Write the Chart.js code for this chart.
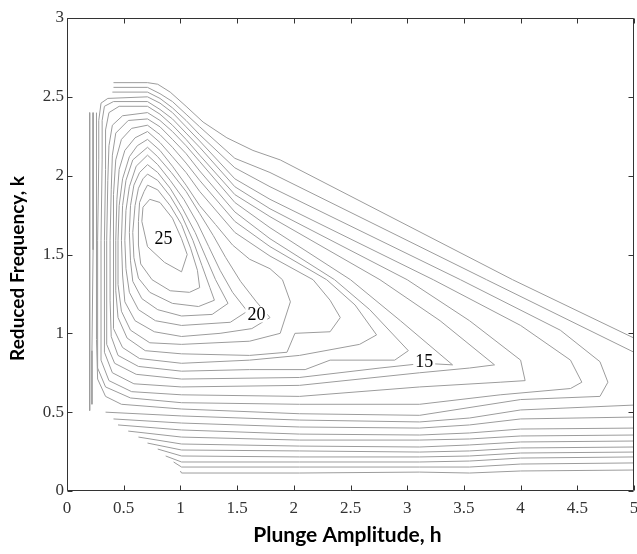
<!DOCTYPE html>
<html>
<head>
<meta charset="utf-8">
<script src="https://cdn.jsdelivr.net/npm/chart.js@4.4.1/dist/chart.umd.min.js"></script>
<style>
html,body{margin:0;padding:0;background:#fff;overflow:hidden}
#wrap{position:relative;width:650px;height:554px}
</style>
</head>
<body>
<div id="wrap"><canvas id="chart" width="650" height="554"></canvas></div>
<script>
// axis ticks
const xTicks = [0, 0.5, 1, 1.5, 2, 2.5, 3, 3.5, 4, 4.5, 5]
const yTicks = [0, 0.5, 1, 1.5, 2, 2.5, 3]

// contour lines, one array per level, each holding one or more [h, k] polylines
const lvl01 = [[[1.00,.127],[1.01,.114],[2.05,.114],[3.11,.120],[3.55,.114],[4.00,.127],[5.00,.133]]]
const lvl02 = [[[.94,.184],[1.01,.152],[2.05,.152],[3.11,.152],[3.55,.152],[4.00,.171],[5.00,.178]]]
const lvl03 = [[[.87,.222],[1.01,.184],[2.05,.184],[3.11,.184],[3.55,.190],[4.00,.209],[5.00,.216]]]
const lvl04 = [[[.80,.266],[1.01,.222],[2.05,.216],[3.11,.216],[3.55,.222],[4.00,.241],[5.00,.247]]]
const lvl05 = [[[.71,.304],[1.01,.260],[2.05,.254],[3.11,.247],[3.55,.254],[4.00,.273],[5.00,.279]]]
const lvl06 = [[[.63,.342],[1.01,.298],[2.05,.285],[3.11,.279],[3.55,.292],[4.00,.311],[5.00,.317]]]
const lvl07 = [[[.54,.380],[1.01,.342],[2.05,.323],[3.11,.323],[3.55,.330],[4.00,.349],[5.00,.355]]]
const lvl08 = [[[.45,.419],[1.01,.387],[2.05,.361],[3.11,.355],[3.55,.368],[4.00,.393],[5.00,.399]]]
const lvl09 = [
  [[.41,2.59],[.71,2.59],[.80,2.58],[.91,2.53],[1.05,2.44],[1.20,2.34],[1.41,2.24],[1.64,2.16],[1.88,2.10],[3.93,1.34],[5.00,.97]],
  [[.20,2.40],[.20,1.50],[.20,.51]],
  [[.41,.457],[1.01,.431],[2.05,.406],[3.11,.399],[3.55,.419],[4.00,.457],[5.00,.469]]
]
const lvl10 = [
  [[.41,2.56],[.71,2.56],[.82,2.52],[.93,2.47],[1.05,2.39],[1.17,2.31],[1.48,2.11],[1.79,2.02],[3.70,1.34],[5.00,.88]],
  [[.23,2.40],[.23,1.53],[.22,.89],[.22,.55]],
  [[.34,.50],[1.01,.476],[2.05,.450],[3.11,.438],[3.55,.463],[4.00,.514],[5.00,.545]]
]
const lvl11 = [[[.40,2.53],[.71,2.53],[.82,2.49],[.93,2.43],[1.05,2.35],[1.17,2.26],[1.48,2.05],[1.79,1.93],[3.47,1.34],[4.35,1.02],[4.70,.82],[4.77,.69],[4.70,.60],[4.00,.58],[3.11,.48],[2.05,.49],[1.01,.52],[.48,.55],[.34,.60],[.27,.71],[.26,.96],[.26,1.59],[.26,2.10],[.26,2.40]]]
const lvl12 = [[[.71,2.50],[.82,2.46],[.93,2.40],[1.05,2.31],[1.17,2.22],[1.48,1.98],[1.79,1.85],[3.23,1.34],[4.00,1.05],[4.44,.83],[4.54,.69],[4.44,.65],[3.82,.61],[3.11,.55],[2.05,.55],[1.01,.56],[.56,.59],[.34,.66],[.27,.78],[.27,1.21],[.27,1.59],[.28,2.10],[.28,2.35],[.30,2.46],[.36,2.49],[.71,2.50]]]
const lvl13 = [[[.71,2.47],[.82,2.42],[.93,2.36],[1.05,2.27],[1.17,2.18],[1.48,1.93],[1.79,1.79],[3.00,1.34],[3.55,1.08],[4.00,.83],[4.04,.70],[3.82,.69],[3.11,.66],[2.05,.60],[1.01,.61],[.57,.63],[.37,.70],[.30,.83],[.30,1.21],[.30,1.59],[.31,2.10],[.31,2.35],[.33,2.44],[.41,2.47],[.71,2.47]]]
const lvl14 = [[[.71,2.44],[.82,2.39],[.93,2.32],[1.05,2.23],[1.17,2.13],[1.48,1.88],[1.79,1.74],[2.76,1.34],[3.29,1.08],[3.77,.80],[3.55,.78],[3.11,.75],[2.05,.67],[1.01,.66],[.59,.68],[.40,.75],[.33,.88],[.33,1.21],[.33,1.59],[.34,2.04],[.34,2.29],[.37,2.40],[.46,2.44],[.71,2.44]]]
const lvl15 = [[[.71,2.40],[.82,2.35],[.93,2.28],[1.05,2.19],[1.17,2.09],[1.48,1.83],[1.79,1.67],[2.50,1.34],[2.94,1.08],[3.40,.80],[3.15,.81],[2.76,.78],[2.05,.72],[1.01,.71],[.61,.74],[.42,.81],[.35,.93],[.35,1.21],[.35,1.59],[.36,1.97],[.37,2.19],[.40,2.32],[.49,2.38],[.71,2.40]]]
const lvl16 = [[[.71,2.36],[.82,2.31],[.93,2.23],[1.05,2.14],[1.17,2.03],[1.48,1.77],[1.79,1.60],[2.36,1.34],[2.67,1.15],[3.01,.89],[2.89,.83],[2.32,.83],[2.10,.77],[1.61,.77],[1.01,.76],[.63,.79],[.45,.86],[.39,.98],[.38,1.21],[.38,1.59],[.39,1.91],[.40,2.13],[.43,2.27],[.54,2.35],[.71,2.36]]]
const lvl17 = [[[.71,2.32],[.82,2.26],[.93,2.18],[1.05,2.08],[1.17,1.97],[1.48,1.71],[1.79,1.55],[2.29,1.34],[2.54,1.18],[2.73,.99],[2.58,.93],[2.05,.86],[1.61,.83],[1.01,.81],[.64,.84],[.49,.91],[.41,1.03],[.41,1.21],[.41,1.59],[.41,1.88],[.43,2.10],[.48,2.23],[.57,2.30],[.71,2.32]]]
const lvl18 = [[[.71,2.28],[.82,2.21],[.93,2.12],[1.05,2.02],[1.17,1.90],[1.48,1.64],[1.79,1.49],[2.17,1.34],[2.32,1.21],[2.41,1.10],[2.32,1.01],[2.01,1.00],[1.94,.88],[1.61,.86],[1.01,.87],[.69,.89],[.53,.97],[.45,1.10],[.43,1.27],[.43,1.59],[.44,1.85],[.46,2.04],[.51,2.16],[.60,2.24],[.71,2.28]]]
const lvl19 = [[[.71,2.23],[.82,2.16],[.93,2.06],[1.05,1.94],[1.17,1.81],[1.31,1.69],[1.46,1.56],[1.61,1.47],[1.79,1.41],[1.90,1.34],[1.97,1.20],[1.88,1.00],[1.61,.95],[1.01,.93],[.73,.94],[.56,1.02],[.48,1.14],[.45,1.31],[.45,1.59],[.46,1.81],[.49,1.98],[.55,2.12],[.62,2.19],[.71,2.23]]]
const lvl20 = [[[.71,2.18],[.80,2.12],[.92,2.02],[1.05,1.90],[1.17,1.76],[1.29,1.62],[1.40,1.48],[1.53,1.33],[1.67,1.20],[1.79,1.10],[1.63,1.03],[1.35,1.00],[1.01,.98],[.77,1.01],[.60,1.08],[.51,1.20],[.49,1.37],[.48,1.59],[.49,1.81],[.52,1.97],[.58,2.10],[.71,2.18]]]
const lvl21 = [[[.71,2.13],[.80,2.07],[.91,1.97],[1.03,1.85],[1.15,1.70],[1.25,1.55],[1.35,1.40],[1.46,1.26],[1.59,1.14],[1.44,1.07],[1.01,1.05],[.78,1.08],[.63,1.15],[.55,1.26],[.52,1.41],[.51,1.59],[.52,1.78],[.55,1.93],[.61,2.06],[.71,2.13]]]
const lvl22 = [[[.71,2.07],[.80,2.02],[.91,1.92],[1.02,1.79],[1.13,1.64],[1.22,1.49],[1.31,1.34],[1.42,1.19],[1.28,1.12],[1.01,1.11],[.80,1.15],[.66,1.22],[.58,1.33],[.56,1.46],[.55,1.64],[.56,1.81],[.59,1.94],[.64,2.02],[.71,2.07]]]
const lvl23 = [[[.71,2.01],[.80,1.97],[.91,1.87],[1.01,1.75],[1.11,1.59],[1.19,1.43],[1.26,1.29],[1.30,1.21],[1.16,1.17],[.93,1.19],[.73,1.26],[.63,1.35],[.59,1.48],[.58,1.64],[.60,1.81],[.63,1.92],[.67,1.98],[.71,2.01]]]
const lvl24 = [[[.71,1.94],[.80,1.91],[.91,1.81],[1.01,1.69],[1.09,1.54],[1.15,1.40],[1.17,1.29],[1.08,1.26],[.91,1.27],[.75,1.34],[.65,1.44],[.63,1.56],[.63,1.71],[.64,1.83],[.68,1.90],[.71,1.94]]]
const lvl25 = [[[.73,1.85],[.82,1.83],[.93,1.73],[1.01,1.60],[1.06,1.50],[1.01,1.39],[.86,1.45],[.71,1.55],[.66,1.71],[.67,1.80],[.73,1.85]]]

const contourLines = [lvl01, lvl02, lvl03, lvl04, lvl05, lvl06, lvl07, lvl08, lvl09, lvl10,
  lvl11, lvl12, lvl13, lvl14, lvl15, lvl16, lvl17, lvl18, lvl19, lvl20,
  lvl21, lvl22, lvl23, lvl24, lvl25]

// inline contour labels
const labelText = ['25', '20', '15']
const labelH = [0.85, 1.67, 3.15]
const labelK = [1.60, 1.12, 0.82]

const xTitle = 'Plunge Amplitude, h'
const yTitle = 'Reduced Frequency, k'

const datasets = []
contourLines.forEach(level => {
  level.forEach(seg => {
    datasets.push({
      data: seg.map(([h, k]) => ({x: h, y: k})),
      showLine: true,
      borderColor: '#9c9c9c',
      borderWidth: 1,
      pointRadius: 0,
      tension: 0
    })
  })
})

const frame = {
  id: 'frame',
  afterDatasetsDraw(chart) {
    const {ctx, chartArea: a, scales: {x, y}} = chart
    ctx.save()
    // contour labels
    ctx.font = '18px "Liberation Serif"'
    ctx.textAlign = 'center'
    ctx.textBaseline = 'middle'
    labelText.forEach((t, i) => {
      const px = x.getPixelForValue(labelH[i])
      const py = y.getPixelForValue(labelK[i])
      const w = ctx.measureText(t).width
      ctx.fillStyle = '#fff'
      ctx.fillRect(px - w / 2 - 2, py - 8, w + 4, 16)
      ctx.fillStyle = '#000'
      ctx.fillText(t, px, py + 1)
    })
    // box and inward ticks
    ctx.strokeStyle = '#333'
    ctx.lineWidth = 1
    const l = Math.round(a.left) + 0.5, r = Math.round(a.right) - 0.5
    const t = Math.round(a.top) + 0.5, b = Math.round(a.bottom) - 0.5
    ctx.beginPath()
    ctx.rect(l, t, r - l, b - t)
    xTicks.forEach(v => {
      const px = Math.round(x.getPixelForValue(v)) + 0.5
      ctx.moveTo(px, b); ctx.lineTo(px, b - 5)
      ctx.moveTo(px, t); ctx.lineTo(px, t + 5)
    })
    yTicks.forEach(v => {
      const py = Math.round(y.getPixelForValue(v)) + 0.5
      ctx.moveTo(l, py); ctx.lineTo(l + 5, py)
      ctx.moveTo(r, py); ctx.lineTo(r - 5, py)
    })
    ctx.stroke()

    // axis titles
    ctx.fillStyle = '#000'
    ctx.textAlign = 'center'
    ctx.textBaseline = 'middle'
    ctx.font = 'bold 21px Lato'
    ctx.fillText(xTitle, (a.left + a.right) / 2 - 3, 535)
    ctx.font = 'bold 19px Lato'
    ctx.translate(18, (a.top + a.bottom) / 2 + 14)
    ctx.rotate(-Math.PI / 2)
    ctx.fillText(yTitle, 0, 0)
    ctx.restore()
  }
}

new Chart(document.getElementById('chart'), {
  type: 'scatter',
  data: {datasets: datasets},
  options: {
    responsive: false,
    devicePixelRatio: 1,
    animation: false,
    events: [],
    layout: {padding: {top: 18, right: 16, left: 0, bottom: 0}},
    plugins: {legend: {display: false}, tooltip: {enabled: false}},
    scales: {
      x: {
        type: 'linear', min: 0, max: 5,
        afterBuildTicks: s => { s.ticks = xTicks.map(v => ({value: v})) },
        afterFit: s => { s.height = 63 },
        grid: {display: false, drawTicks: false},
        border: {display: false},
        ticks: {
          font: {family: 'Liberation Serif', size: 17},
          color: '#333', padding: 7, maxRotation: 0, autoSkip: false,
          callback: v => String(v)
        }
      },
      y: {
        type: 'linear', min: 0, max: 3,
        afterBuildTicks: s => { s.ticks = yTicks.map(v => ({value: v})) },
        afterFit: s => { s.width = 67 },
        grid: {display: false, drawTicks: false},
        border: {display: false},
        ticks: {
          font: {family: 'Liberation Serif', size: 17},
          color: '#333', padding: 3, autoSkip: false,
          callback: v => String(v)
        }
      }
    }
  },
  plugins: [frame]
})
</script>
</body>
</html>
